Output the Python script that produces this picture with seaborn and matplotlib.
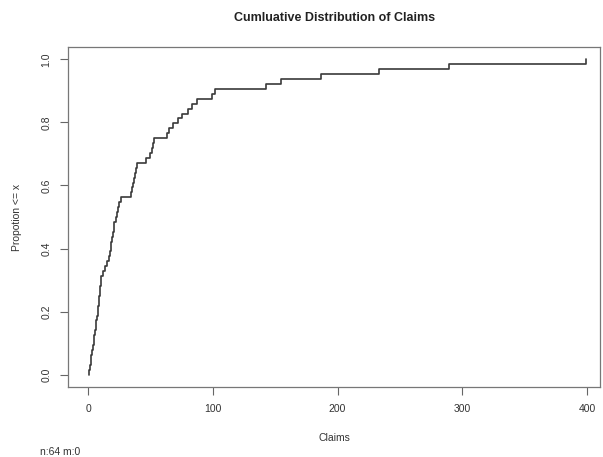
import numpy as np
import pandas as pd
import matplotlib
matplotlib.use("Agg")
import matplotlib.pyplot as plt
import seaborn as sns

claims = [0.5, 1.5, 2, 2.5, 3, 3.5, 4.3, 5, 5.5, 6, 6.5, 7, 7.5, 7.8, 8.3, 8.8,
          9.2, 9.6, 10, 10.5, 12, 13.5, 15, 16.5, 17.5, 18, 18.5, 19, 19.5, 20.3,
          21, 22, 23, 24, 25, 26, 34, 35, 35.5, 36.5, 37.5, 38.5, 39, 46.5, 49.5,
          51, 52, 53, 63.5, 65, 68, 72, 75, 80, 83, 87, 99, 101.8, 142.6, 155,
          187, 233, 289.5, 399.6]
x_ticks = [0, 100, 200, 300, 400]
y_ticks = [0.0, 0.2, 0.4, 0.6, 0.8, 1.0]
y_tick_labels = ["0.0", "0.2", "0.4", "0.6", "0.8", "1.0"]

df = pd.DataFrame({"Claims": claims})

sns.set_style("white")
plt.rcParams['font.family'] = ['Liberation Sans', 'DejaVu Sans']

fig = plt.figure(figsize=(6.03, 4.57), dpi=100)
ax = fig.add_axes([68.3/603, 1-387.3/457, (600-68.3)/603, (387.3-46.7)/457])

sns.ecdfplot(data=df, x="Claims", ax=ax, color="#3a3a3a", linewidth=1.2)

ax.set_xlim(-16, 410.5)
ax.set_ylim(-0.04, 1.04)
ax.set_xticks(x_ticks)
ax.set_xticklabels([str(t) for t in x_ticks])
ax.set_yticks(y_ticks)
ax.set_yticklabels(y_tick_labels, rotation=90, va="center")
ax.tick_params(axis="both", direction="out", length=6, width=0.8, color="#666666",
               labelsize=7.5, labelcolor="#333333", pad=6, bottom=True, left=True)
for s in ax.spines.values():
    s.set_color("#777777")
    s.set_linewidth(0.9)
    s.set_visible(True)

ax.set_xlabel("Claims", fontsize=7.5, color="#333333", labelpad=14)
ax.set_ylabel("Propotion <= x", fontsize=7.5, color="#333333", labelpad=14)
fig.text((68.3+600)/2/603, 1-18/457, "Cumluative Distribution of Claims",
         ha="center", va="center", fontsize=9, fontweight="bold", color="#222222")
fig.text(40/603, 1-452/457, "n:64 m:0", ha="left", va="center", fontsize=7.5, color="#333333")

fig.savefig("out.png", dpi=100)
